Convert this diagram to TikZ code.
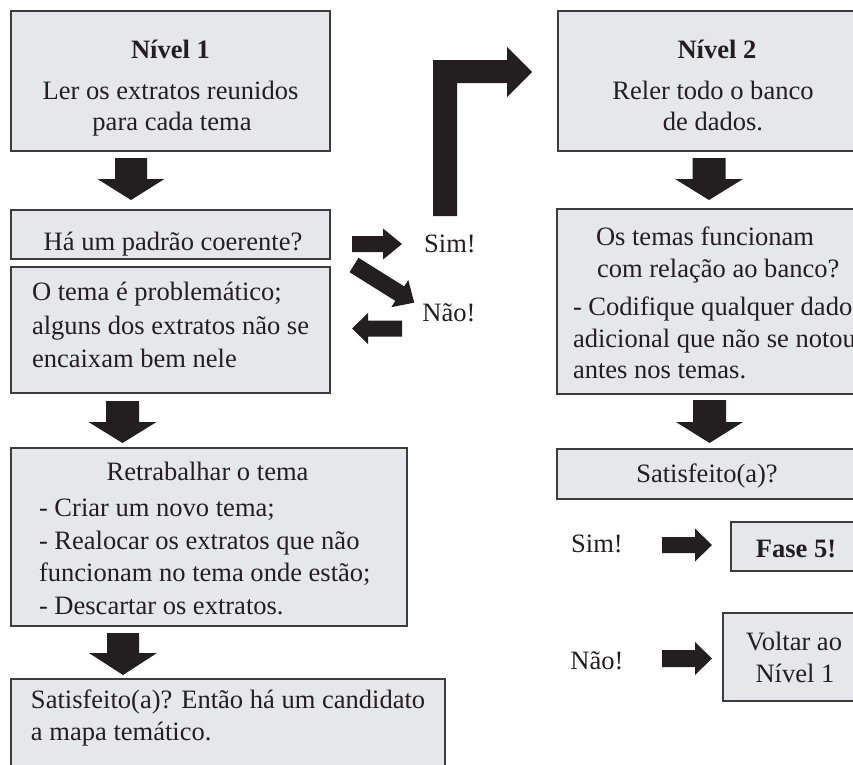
\documentclass[tikz,border=0pt]{standalone}
\usepackage{fontspec}
\setmainfont{Liberation Serif}
\definecolor{boxfill}{RGB}{230,231,232}
\definecolor{boxline}{RGB}{60,60,60}
\definecolor{arrowfill}{RGB}{35,31,32}
\definecolor{textcol}{RGB}{35,31,32}
% vertical block arrow: cx, shaft half, head half, y0, y1, y2
\newcommand\blkdown[6]{\fill[blk] (#1-#2,#4) -- (#1+#2,#4) -- (#1+#2,#5) -- (#1+#3,#5) -- (#1,#6) -- (#1-#3,#5) -- (#1-#2,#5) -- cycle;}
% horizontal block arrow: x0, xhead, xtip, cy, shaft half, head half
\newcommand\blkh[6]{\fill[blk] (#1,#4-#5) -- (#2,#4-#5) -- (#2,#4-#6) -- (#3,#4) -- (#2,#4+#6) -- (#2,#4+#5) -- (#1,#4+#5) -- cycle;}
\begin{document}
\begin{tikzpicture}[x=0.75pt,y=-0.75pt,
  box/.style={draw=boxline, fill=boxfill, line width=1.1pt, rectangle, inner sep=0pt, outer sep=0pt},
  txt/.style={inner sep=0pt, outer sep=0pt, anchor=base, font=\fontsize{19.9}{24}\selectfont, text=textcol},
  ltxt/.style={txt, anchor=base west},
  blk/.style={fill=arrowfill, draw=none}]
\useasboundingbox (0,0) rectangle (853,764);
\clip (0,0) rectangle (853,764);
\fill[white] (0,0) rectangle (853,764);

% boxes
\node[box, minimum width=239.25pt, minimum height=105pt]   (n1)     at (170.5,81)   {};
\node[box, minimum width=239.25pt, minimum height=36.75pt] (padrao) at (170.5,234.5) {};
\node[box, minimum width=239.25pt, minimum height=94.5pt]  (tema)   at (170.5,330)  {};
\node[box, minimum width=297pt,    minimum height=133.5pt] (retrab) at (209,537)    {};
\node[box, minimum width=325.5pt,  minimum height=90.75pt] (final)  at (228,739.5)  {};
\node[box, minimum width=234pt,    minimum height=105pt]   (n2)     at (714,81)     {};
\node[box, minimum width=234.75pt, minimum height=138.75pt](temas)  at (713.5,301.5) {};
\node[box, minimum width=234.75pt, minimum height=37.5pt]  (satis)  at (713.5,474)  {};
\node[box, minimum width=104.25pt, minimum height=36.75pt] (fase)   at (800.5,546.5) {};
\node[box, minimum width=110.25pt, minimum height=66pt]    (voltar) at (796.5,657)  {};

% block arrows
\blkdown{131}{16}{33.5}{158}{179}{200}
\blkdown{709}{16.5}{34}{158}{179}{200}
\blkdown{709.5}{16.5}{33.5}{400}{422}{443}
\blkdown{122.5}{16.5}{34}{401}{422}{443}
\blkdown{123}{16}{34}{633}{653}{675}
\blkh{352}{383}{402}{244}{8}{15.5}
\blkh{402}{368}{352}{328.5}{8}{15.5}
\blkh{662}{695}{712}{545}{8}{16.5}
\blkh{662}{695}{712}{658.5}{8.5}{16.5}
\begin{scope}[shift={(354,265)}, rotate=-32]
  \blkh{0}{54}{71}{0}{8.5}{16}
\end{scope}
\fill[blk] (433,216) -- (433,60) -- (507,60) -- (507,47) -- (532,72) -- (507,97) -- (507,83) -- (457,83) -- (457,216) -- cycle;

% texts
\node[txt] (t1)  at (170.5,58) {\textbf{Nível 1}};
\node[txt] (t2)  at (170.5,99) {Ler os extratos reunidos};
\node[txt] (t3)  at (172,130)  {para cada tema};
\node[txt] (t4)  at (173,250)  {Há um padrão coerente?};
\node[ltxt] (t5) at (32,300)   {O tema é problemático;};
\node[ltxt] (t6) at (32,334)   {alguns dos extratos não se};
\node[ltxt] (t7) at (32,367)   {encaixam bem nele};
\node[txt] (sim1) at (450,252) {Sim!};
\node[txt] (nao1) at (449,321) {Não!};
\node[txt] (t8)  at (207.5,480) {Retrabalhar o tema};
\node[ltxt] (t9)  at (39,516.5) {- Criar um novo tema;};
\node[ltxt] (t10) at (39,549)   {- Realocar os extratos que não};
\node[ltxt] (t11) at (39,581.5) {funcionam no tema onde estão;};
\node[ltxt] (t12) at (39,614)   {- Descartar os extratos.};
\node[ltxt] (t13) at (31,708)   {Satisfeito(a)? Então há um candidato};
\node[ltxt] (t14) at (31,740)   {a mapa temático.};
\node[txt] (t15) at (717,58)  {\textbf{Nível 2}};
\node[txt] (t16) at (713,99)  {Reler todo o banco};
\node[txt] (t17) at (713,130) {de dados.};
\node[ltxt] (t18) at (596,245) {Os temas funcionam};
\node[ltxt] (t19) at (597,277) {com relação ao banco?};
\node[ltxt] (t20) at (573,315) {- Codifique qualquer dado};
\node[ltxt] (t21) at (573,347) {adicional que não se notou};
\node[ltxt] (t22) at (573,378) {antes nos temas.};
\node[txt] (t23) at (707,482) {Satisfeito(a)?};
\node[txt] (sim2) at (597,552) {Sim!};
\node[txt] (t24) at (796,557) {\textbf{Fase 5!}};
\node[txt] (nao2) at (597,669) {Não!};
\node[txt] (t25) at (794,650) {Voltar ao};
\node[txt] (t26) at (795,682) {Nível 1};
\end{tikzpicture}
\end{document}
